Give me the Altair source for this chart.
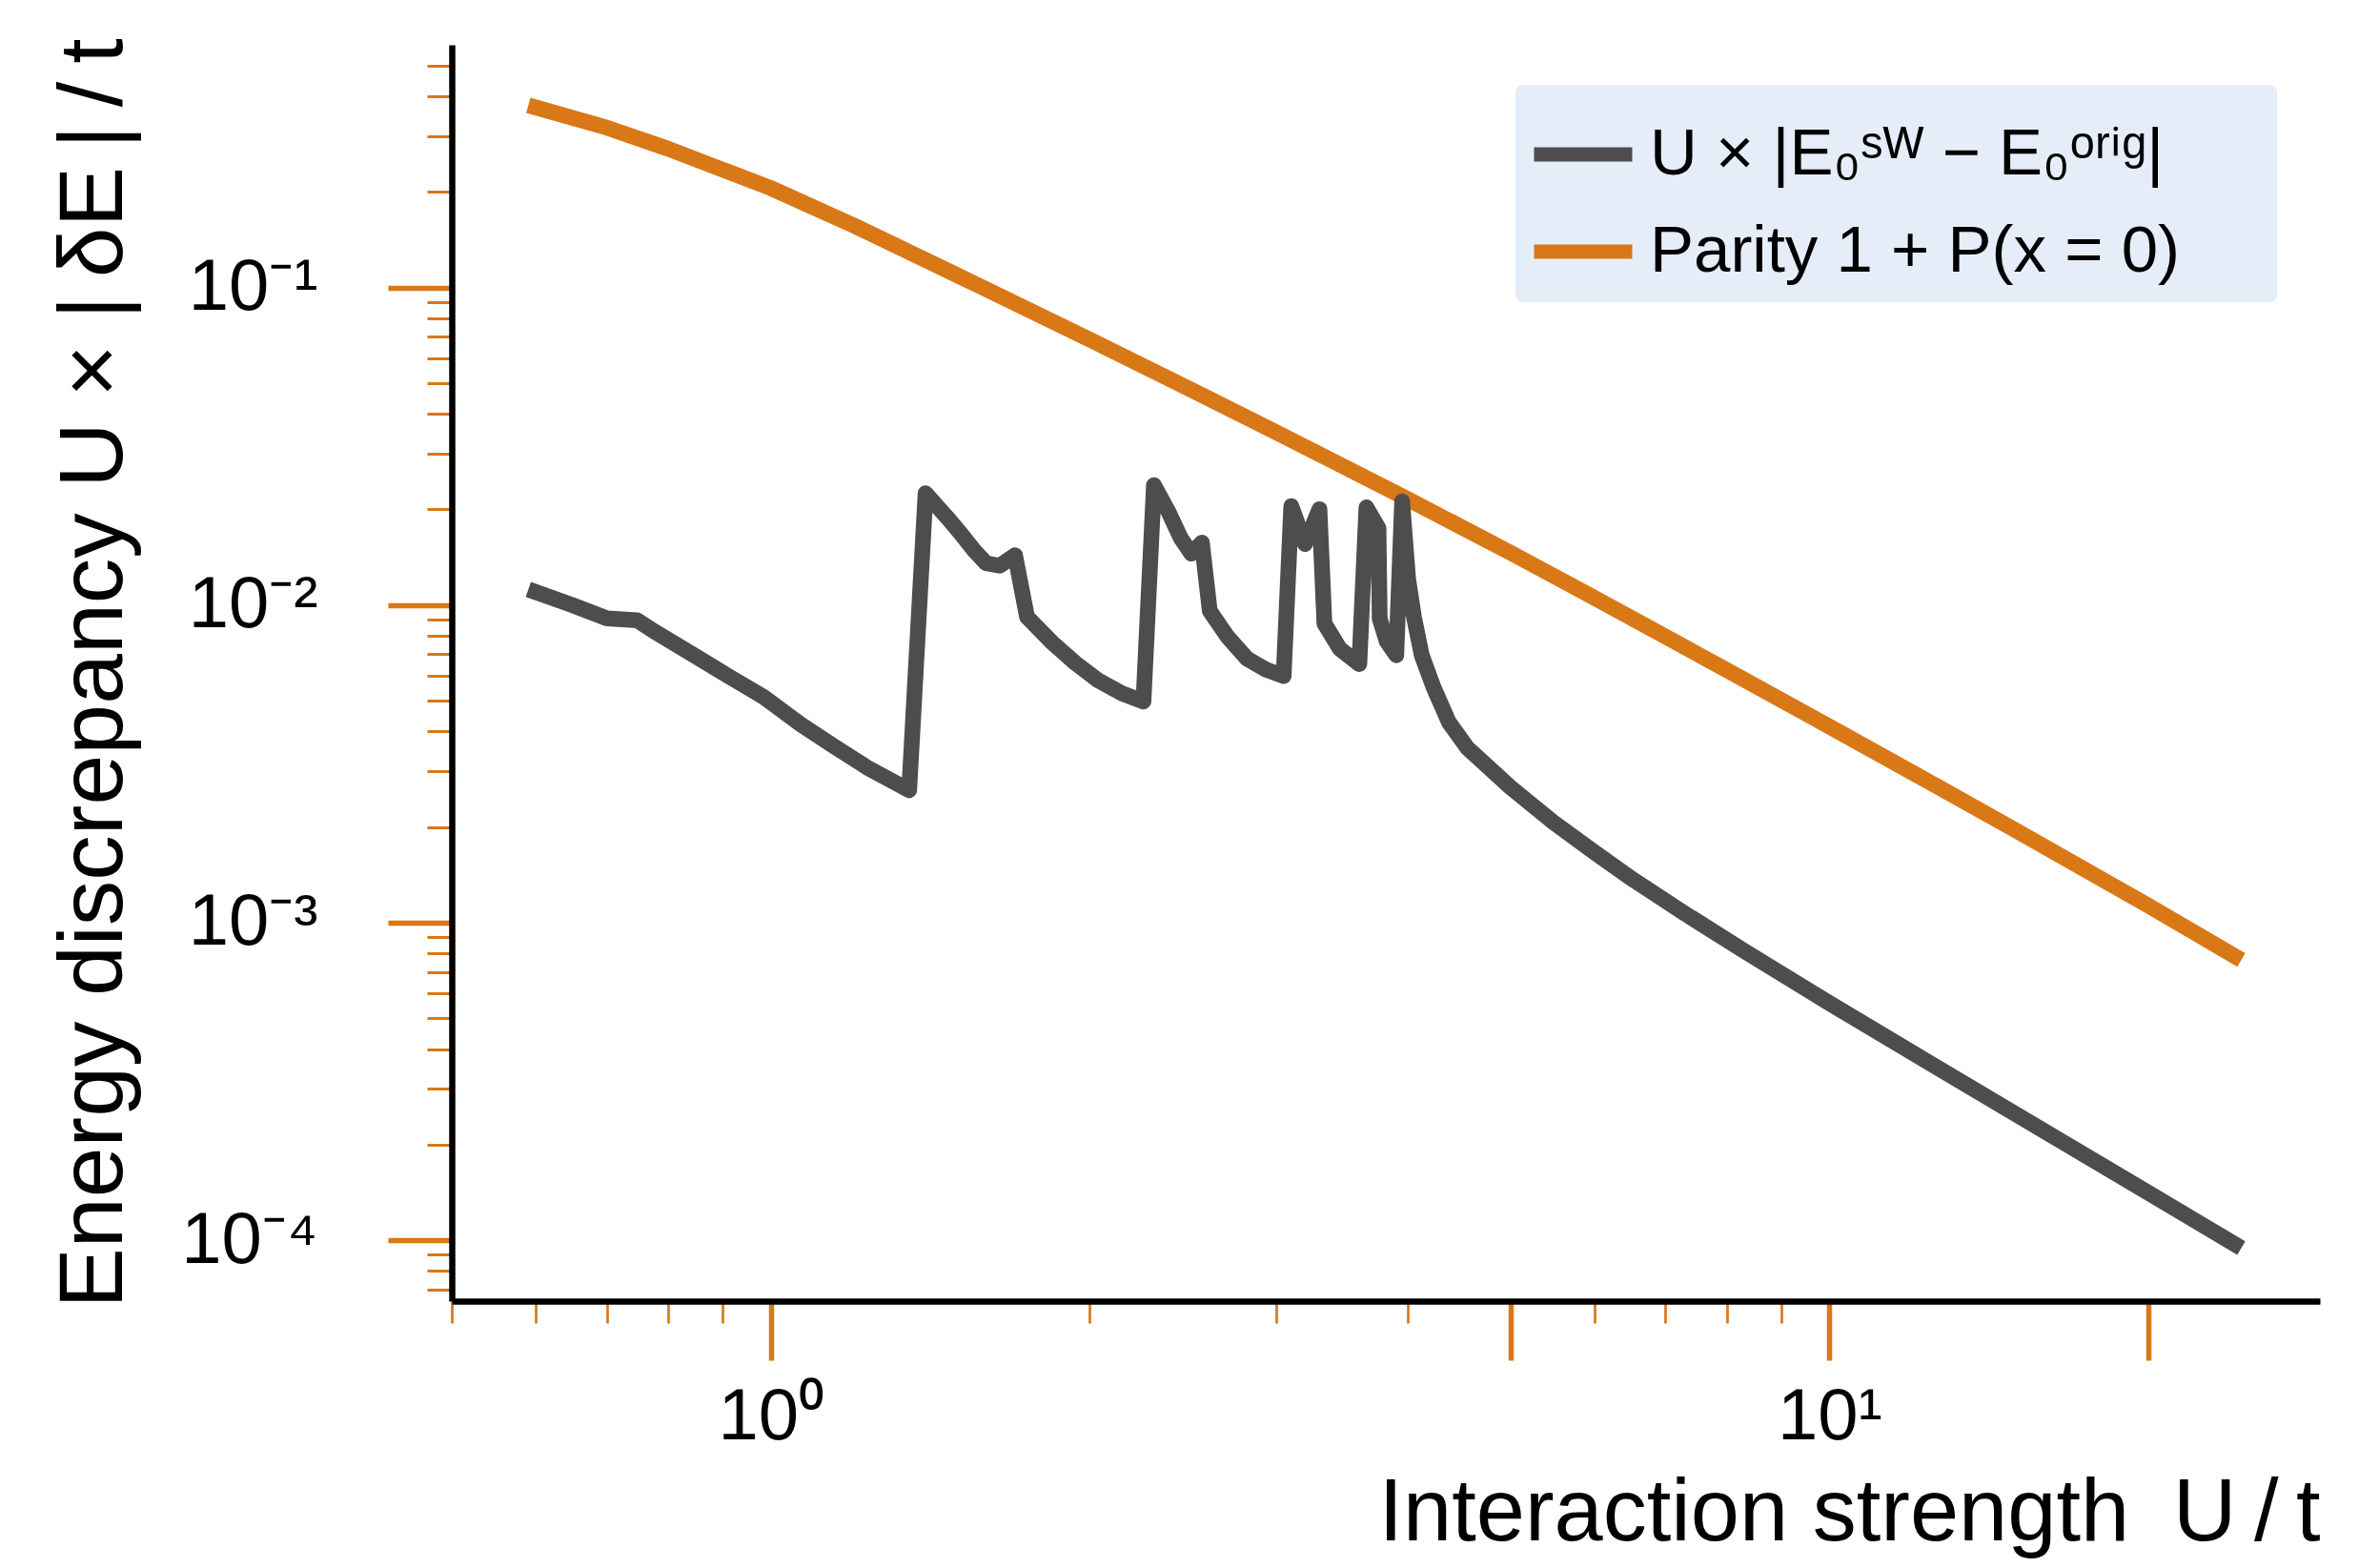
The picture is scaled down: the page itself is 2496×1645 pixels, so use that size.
import altair as alt
import pandas as pd

# ---- data ----
gray_label = "U × |E₀ˢᵂ − E₀ᵒʳⁱᵍ|"
orange_label = "Parity 1 + P(x = 0)"

gray_x = [0.59, 0.649, 0.700, 0.748, 0.776, 0.840, 0.909, 0.985, 1.066, 1.146,
          1.233, 1.351, 1.400, 1.467, 1.518, 1.556, 1.597, 1.645, 1.701, 1.746,
          1.844, 1.940, 2.040, 2.147, 2.249, 2.301, 2.376, 2.438, 2.496, 2.554,
          2.598, 2.698, 2.816, 2.937, 3.051, 3.102, 3.196, 3.298, 3.334, 3.448,
          3.597, 3.653, 3.750, 3.760, 3.817, 3.898, 3.948, 4.000, 4.051, 4.120,
          4.226, 4.370, 4.550, 4.996, 5.486, 6.001, 6.522, 7.284, 8.305, 10.0,
          12.0, 15.0, 20.0, 24.5]
gray_y = [0.0112, 0.0100, 0.00908, 0.00895, 0.00826, 0.00705, 0.00601, 0.00513, 0.00422, 0.00360,
          0.00308, 0.00261, 0.0225, 0.0189, 0.0165, 0.01486, 0.01355, 0.0133, 0.01435, 0.00917,
          0.00762, 0.00656, 0.00578, 0.00527, 0.00497, 0.02385, 0.0196, 0.0163, 0.01452, 0.01574,
          0.00959, 0.00798, 0.00679, 0.00626, 0.00598, 0.0205, 0.01556, 0.02004, 0.00875, 0.00728,
          0.00652, 0.0203, 0.01746, 0.00906, 0.0077, 0.00695, 0.0212, 0.01208, 0.00917, 0.00695,
          0.00552, 0.00428, 0.00355, 0.00267, 0.00207, 0.001664, 0.001367, 0.001074, 0.000815, 0.000558,
          0.000388, 0.0002495, 0.0001412, 0.0000945]

orange_x = [0.59, 0.7, 0.8, 1.0, 1.2, 1.5, 2.0, 2.5, 3.0, 4.0, 5.0, 6.0, 8.0, 10.0, 12.0, 15.0, 20.0, 24.5]
orange_y = [0.3747, 0.3186, 0.2733, 0.2055, 0.1563, 0.1093, 0.0686, 0.04749, 0.03503, 0.02153,
            0.01460, 0.01053, 0.00624, 0.004146, 0.002959, 0.001952, 0.001133, 0.000763]

x_major = [1, 5, 10, 20]
x_minor = [0.5, 0.6, 0.7, 0.8, 0.9, 2, 3, 4, 6, 7, 8, 9]
y_major = [1e-4, 1e-3, 1e-2, 1e-1]
y_minor = [7e-5, 8e-5, 9e-5] + [m * 1e-4 for m in range(2, 10)] + [m * 1e-3 for m in range(2, 10)] \
          + [m * 1e-2 for m in range(2, 10)] + [0.2, 0.3, 0.4, 0.5]

x_domain = [0.4995, 29.07]
y_domain = [6.43e-5, 0.581]

GRAY = "#4d4d4d"
ORANGE = "#d97817"
LEGEND_BG = "#e5edf8"
FONT = "Liberation Sans"

gray_df = pd.DataFrame({"U": gray_x, "E": gray_y, "series": gray_label})
orange_df = pd.DataFrame({"U": orange_x, "E": orange_y, "series": orange_label})
all_df = pd.concat([gray_df, orange_df], ignore_index=True)

xscale = alt.Scale(type="log", domain=x_domain, nice=False, zero=False)
yscale = alt.Scale(type="log", domain=y_domain, nice=False, zero=False)
cscale = alt.Scale(domain=[gray_label, orange_label], range=[GRAY, ORANGE])

x_axis_major = alt.Axis(
    values=x_major,
    labelExpr="datum.value == 1 ? '10⁰' : (datum.value == 10 ? '10¹' : '')",
    tickSize=62, tickWidth=5.5, tickColor=ORANGE,
    domainColor="black", domainWidth=6.5,
    labelFont=FONT, labelFontSize=76, labelColor="black", labelPadding=22,
    labelOverlap=False, labelFlush=False,
    title="Interaction strength\u2002U\u2009/\u2009t", titleFont=FONT, titleFontSize=92,
    titleFontWeight="normal", titleColor="black",
    titleX=1960, titleY=250, titleAlign="right", titleBaseline="alphabetic",
    grid=False, orient="bottom",
)
y_axis_major = alt.Axis(
    values=y_major,
    labelExpr="round(log(datum.value)/LN10) == -1 ? '10⁻¹' : (round(log(datum.value)/LN10) == -2 ? '10⁻²' : (round(log(datum.value)/LN10) == -3 ? '10⁻³' : '10⁻⁴'))",
    tickSize=67, tickWidth=5.5, tickColor=ORANGE,
    domainColor="black", domainWidth=6.5,
    labelFont=FONT, labelFontSize=76, labelColor="black", labelPadding=74,
    labelOverlap=False, labelFlush=False,
    title="Energy discrepancy U × |\u2009δE\u2009|\u2009/\u2009t", titleFont=FONT, titleFontSize=95,
    titleFontWeight="normal", titleColor="black",
    titleX=-347, titleY=659, titleAngle=270, titleAlign="center", titleBaseline="alphabetic",
    grid=False, orient="left",
)
x_axis_minor = alt.Axis(
    values=x_minor, labels=False, domain=False, tickSize=23, tickWidth=2.7,
    tickColor=ORANGE, grid=False, title="", orient="bottom",
)
y_axis_minor = alt.Axis(
    values=y_minor, labels=False, domain=False, tickSize=26, tickWidth=3,
    tickColor=ORANGE, grid=False, title="", orient="left",
)

legend = alt.Legend(
    orient="none", legendX=1114, legendY=42, padding=14,
    symbolType="stroke", symbolSize=10609, symbolStrokeWidth=15,
    labelFont=FONT, labelFontSize=69, labelColor="black", labelOffset=11,
    labelLimit=2000, rowPadding=8,
)

# legend background box (decoration, placed in pixels)
legend_box = alt.Chart(pd.DataFrame({"box": [0]})).mark_rect(
    color=LEGEND_BG, cornerRadius=8
).encode(
    x=alt.value(1116), x2=alt.value(1915), y=alt.value(42), y2=alt.value(270)
)

orange_line = alt.Chart(orange_df).mark_line(
    strokeWidth=16.5, strokeCap="butt", strokeJoin="round"
).encode(
    x=alt.X("U:Q", scale=xscale, axis=x_axis_major),
    y=alt.Y("E:Q", scale=yscale, axis=y_axis_major),
    color=alt.Color("series:N", scale=cscale, legend=legend, title=""),
)

gray_line = alt.Chart(gray_df).mark_line(
    strokeWidth=16.5, strokeCap="butt", strokeJoin="round"
).encode(
    x=alt.X("U:Q", scale=xscale, axis=None),
    y=alt.Y("E:Q", scale=yscale, axis=None),
    color=alt.Color("series:N", scale=cscale, legend=legend, title=""),
)

minor = alt.Chart(all_df).mark_point(opacity=0).encode(
    x=alt.X("U:Q", scale=xscale, axis=x_axis_minor),
    y=alt.Y("E:Q", scale=yscale, axis=y_axis_minor),
)

chart = alt.layer(minor, legend_box, orange_line, gray_line).resolve_axis(
    x="independent", y="independent"
).properties(
    width=1960, height=1318,
    background="white",
    autosize=alt.AutoSizeParams(type="none"),
    padding={"left": 466, "top": 39, "right": 50, "bottom": 270},
).configure_view(
    stroke="transparent", strokeWidth=0
)

chart.save("out.html", embed_options={"renderer": "svg", "actions": False})
